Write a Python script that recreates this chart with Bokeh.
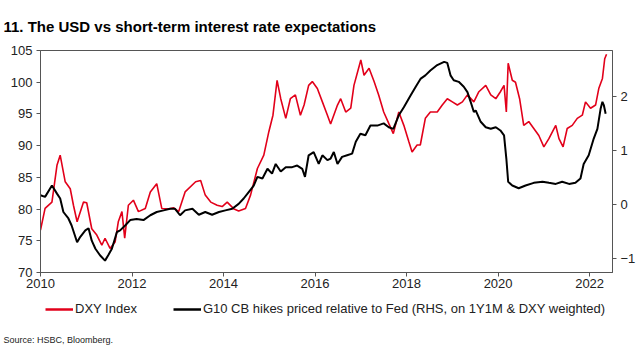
from bokeh.plotting import figure
from bokeh.models import Range1d, LinearAxis, FixedTicker, Legend, LegendItem, Title
from bokeh.layouts import column
from bokeh.embed import file_html
from bokeh.resources import INLINE

# ---- data (decimal years) ----
dxy_t = [2010.00, 2010.10, 2010.25, 2010.36, 2010.43, 2010.54, 2010.65, 2010.72, 2010.80, 2010.94,
         2011.01, 2011.12, 2011.23, 2011.34, 2011.41, 2011.52, 2011.63, 2011.70, 2011.78, 2011.84,
         2011.92, 2012.03, 2012.14, 2012.29, 2012.40, 2012.54, 2012.65, 2012.80, 2012.91, 2013.02,
         2013.16, 2013.39, 2013.50, 2013.60, 2013.72, 2013.86, 2013.97, 2014.08, 2014.23, 2014.33,
         2014.48, 2014.59, 2014.74, 2014.88, 2014.99, 2015.08, 2015.17, 2015.25, 2015.36, 2015.46,
         2015.57, 2015.68, 2015.76, 2015.86, 2015.94, 2016.05, 2016.16, 2016.27, 2016.34, 2016.49,
         2016.56, 2016.67, 2016.78, 2016.85, 2017.00, 2017.07, 2017.18, 2017.29, 2017.39, 2017.50,
         2017.61, 2017.71, 2017.83, 2017.94, 2018.05, 2018.12, 2018.23, 2018.30, 2018.41, 2018.52,
         2018.67, 2018.78, 2018.89, 2019.00, 2019.11, 2019.22, 2019.33, 2019.47, 2019.58, 2019.73,
         2019.84, 2019.95, 2020.05, 2020.13, 2020.18, 2020.22, 2020.31, 2020.38, 2020.47, 2020.56,
         2020.67, 2020.78, 2020.89, 2021.00, 2021.11, 2021.26, 2021.33, 2021.42, 2021.51, 2021.62,
         2021.73, 2021.84, 2021.91, 2022.02, 2022.13, 2022.20, 2022.28, 2022.33, 2022.37]
dxy_v = [76.7, 80.1, 81.1, 86.9, 88.5, 84.3, 83.2, 80.6, 78.0, 81.1,
         81.0, 76.9, 75.9, 74.3, 75.4, 73.8, 74.8, 78.0, 79.6, 75.4,
         80.6, 81.4, 79.6, 80.1, 82.7, 84.0, 80.1, 80.0, 80.2, 79.6,
         82.7, 84.3, 84.5, 82.2, 81.1, 80.6, 80.4, 81.1, 80.0, 79.7,
         80.1, 82.2, 86.4, 88.5, 92.2, 94.8, 100.3, 97.4, 94.3, 97.4,
         98.0, 94.8, 96.4, 99.5, 100.1, 99.0, 96.9, 94.8, 93.4, 96.4,
         97.4, 95.3, 95.9, 99.5, 103.5, 101.1, 102.2, 100.1, 98.0, 95.3,
         93.5, 91.9, 95.3, 93.2, 90.6, 89.0, 90.1, 90.1, 94.3, 95.3,
         95.3, 96.4, 97.4, 96.9, 96.4, 96.9, 98.0, 96.9, 98.5, 99.5,
         98.0, 97.4, 98.5, 99.5, 95.3, 103.0, 100.3, 100.0, 97.4, 93.2,
         93.8, 92.7, 91.6, 89.8, 91.1, 93.2, 91.1, 89.8, 92.7, 93.2,
         94.3, 94.8, 96.9, 95.9, 96.4, 99.0, 100.6, 103.7, 104.4]

g10_t = [2010.00, 2010.10, 2010.25, 2010.36, 2010.43, 2010.50, 2010.61, 2010.68, 2010.80, 2010.87,
         2010.98, 2011.05, 2011.12, 2011.20, 2011.30, 2011.41, 2011.48, 2011.56, 2011.67, 2011.74,
         2011.85, 2011.96, 2012.10, 2012.25, 2012.40, 2012.54, 2012.69, 2012.83, 2012.94, 2013.05,
         2013.16, 2013.32, 2013.46, 2013.60, 2013.75, 2013.90, 2014.04, 2014.19, 2014.33, 2014.44,
         2014.55, 2014.66, 2014.74, 2014.85, 2014.96, 2015.06, 2015.14, 2015.25, 2015.36, 2015.50,
         2015.61, 2015.72, 2015.78, 2015.86, 2015.97, 2016.08, 2016.16, 2016.27, 2016.34, 2016.41,
         2016.49, 2016.59, 2016.70, 2016.81, 2016.89, 2016.99, 2017.10, 2017.21, 2017.36, 2017.50,
         2017.61, 2017.71, 2017.83, 2017.94, 2018.09, 2018.20, 2018.31, 2018.41, 2018.52, 2018.67,
         2018.82, 2018.89, 2018.96, 2019.03, 2019.14, 2019.25, 2019.33, 2019.40, 2019.47, 2019.51,
         2019.62, 2019.73, 2019.84, 2019.95, 2020.05, 2020.13, 2020.18, 2020.22, 2020.31, 2020.45,
         2020.60, 2020.78, 2020.97, 2021.11, 2021.26, 2021.40, 2021.55, 2021.69, 2021.80, 2021.87,
         2021.98, 2022.09, 2022.17, 2022.24, 2022.28, 2022.31, 2022.35]
g10_v = [0.18, 0.15, 0.36, 0.21, 0.12, -0.13, -0.25, -0.38, -0.69, -0.59,
         -0.47, -0.43, -0.66, -0.81, -0.93, -1.03, -0.93, -0.81, -0.50, -0.47,
         -0.38, -0.28, -0.26, -0.28, -0.19, -0.13, -0.10, -0.07, -0.07, -0.19,
         -0.10, -0.07, -0.18, -0.13, -0.18, -0.13, -0.10, -0.07, 0.02, 0.12,
         0.24, 0.36, 0.52, 0.49, 0.67, 0.58, 0.76, 0.62, 0.70, 0.70,
         0.73, 0.67, 0.52, 0.92, 0.98, 0.76, 0.92, 0.83, 0.86, 0.98,
         0.76, 0.89, 0.92, 0.95, 1.17, 1.32, 1.29, 1.47, 1.47, 1.51,
         1.44, 1.41, 1.66, 1.81, 2.03, 2.19, 2.34, 2.40, 2.49, 2.59,
         2.65, 2.63, 2.40, 2.31, 2.28, 2.19, 2.09, 1.91, 1.72, 1.75,
         1.54, 1.44, 1.41, 1.44, 1.38, 1.29, 0.86, 0.43, 0.36, 0.31,
         0.36, 0.41, 0.43, 0.41, 0.39, 0.43, 0.39, 0.41, 0.49, 0.76,
         0.92, 1.23, 1.41, 1.78, 1.91, 1.85, 1.69]

x_ticks = [2010, 2012, 2014, 2016, 2018, 2020, 2022]
left_ticks = [70, 75, 80, 85, 90, 95, 100, 105]
right_ticks = [-1, 0, 1, 2]
labels = ["DXY Index", "G10 CB hikes priced relative to Fed (RHS, on 1Y1M & DXY weighted)"]
source_text = "Source: HSBC, Bloomberg."
title_text = "11. The USD vs short-term interest rate expectations"

FONT = "Liberation Sans"
AX = "#555555"
RED = "#e2001a"
W = 640

p = figure(width=W, height=294, x_range=Range1d(2010, 2022.5), y_range=Range1d(70, 105),
           output_backend="svg", toolbar_location=None,
           min_border_left=40, min_border_right=28, min_border_top=50, min_border_bottom=22)
p.extra_y_ranges = {"rhs": Range1d(-1.25, 2.86)}

p.title.text = title_text
p.title.text_font = FONT
p.title.text_font_size = "15px"
p.title.text_font_style = "bold"
p.title.align = "left"
p.title.offset = -37
p.title.standoff = 31
p.title.text_color = "#000000"

p.grid.visible = False
p.outline_line_color = AX
p.outline_line_width = 1
p.background_fill_color = "white"
p.border_fill_color = "white"

def style_axis(ax, ticks):
    ax.ticker = FixedTicker(ticks=ticks)
    ax.major_label_text_font = FONT
    ax.major_label_text_font_size = "13px"
    ax.major_label_text_color = "#222222"
    ax.axis_line_color = AX
    ax.major_tick_line_color = AX
    ax.major_tick_in = 0
    ax.major_tick_out = 4
    ax.minor_tick_line_color = None
    ax.major_label_standoff = 4

style_axis(p.xaxis[0], x_ticks)
p.xaxis[0].major_label_standoff = 2
style_axis(p.yaxis[0], left_ticks)
rax = LinearAxis(y_range_name="rhs")
style_axis(rax, right_ticks)
p.add_layout(rax, "right")

p.line(dxy_t, dxy_v, line_color=RED, line_width=1.6)
p.line(g10_t, g10_v, line_color="black", line_width=2, y_range_name="rhs")

# ---- legend + source strip (its frame lines up with the chart frame) ----
H2 = 66
q = figure(width=W, height=H2, x_range=Range1d(0, 1), y_range=Range1d(0, 1),
           output_backend="svg", toolbar_location=None,
           x_axis_location=None, y_axis_location=None,
           min_border_left=40, min_border_right=28, min_border_top=0, min_border_bottom=30)
q.grid.visible = False
q.outline_line_color = None
q.background_fill_color = "white"
q.border_fill_color = "white"
# off-range stand-ins that only feed the legend swatches
d1 = q.line([-2, -1], [-2, -2], line_color=RED, line_width=2.5)
d2 = q.line([-2, -1], [-2, -2], line_color="black", line_width=2.5)
legend = Legend(items=[LegendItem(label=labels[0], renderers=[d1]),
                       LegendItem(label=labels[1], renderers=[d2])],
                orientation="horizontal", location=(5, 14),
                label_text_font=FONT, label_text_font_size="13px", label_text_color="#222222",
                glyph_width=28, glyph_height=12, label_standoff=2, spacing=36,
                padding=0, margin=0, border_line_alpha=0, background_fill_alpha=0)
q.add_layout(legend, "center")
src = Title(text=source_text, align="left", offset=-37, standoff=4,
            text_font=FONT, text_font_size="9px", text_font_style="normal", text_color="#222222")
q.add_layout(src, "below")

open("out.html", "w").write(file_html(column(p, q, spacing=0), INLINE))
